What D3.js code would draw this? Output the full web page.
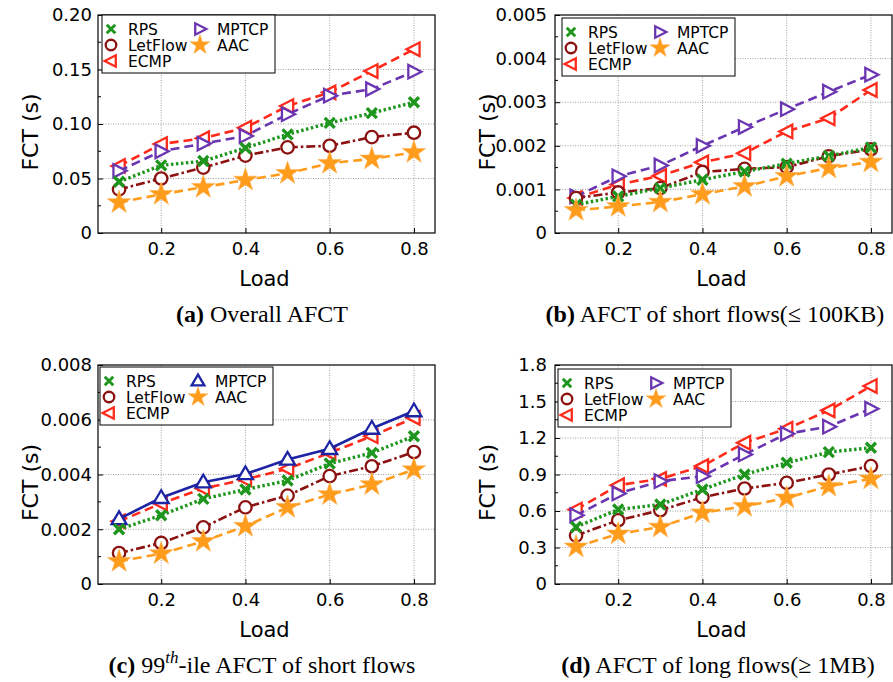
<!DOCTYPE html>
<html>
<head>
<meta charset="utf-8">
<script src="https://cdn.jsdelivr.net/npm/d3@7"></script>
<style>
  body { margin: 0; background: #fff; }
  svg { display: block; }
  .tick text { font-family: "DejaVu Sans", sans-serif; }
</style>
</head>
<body>
<svg id="chart" width="893" height="682"></svg>
<script>
"use strict";

const loads = [0.1, 0.2, 0.3, 0.4, 0.5, 0.6, 0.7, 0.8];
const seriesNames = ["RPS", "LetFlow", "ECMP", "MPTCP", "AAC"];

// (a) overall AFCT
const overallRPS = [0.047, 0.062, 0.066, 0.078, 0.0905, 0.101, 0.110, 0.120];
const overallLetFlow = [0.040, 0.050, 0.060, 0.071, 0.0786, 0.080, 0.088, 0.092];
const overallECMP = [0.0615, 0.0816, 0.087, 0.0966, 0.1165, 0.129, 0.1486, 0.1685];
const overallMPTCP = [0.057, 0.075, 0.082, 0.089, 0.109, 0.126, 0.132, 0.148];
const overallAAC = [0.028, 0.0355, 0.042, 0.0486, 0.0548, 0.064, 0.068, 0.074];

// (b) short flows AFCT
const shortRPS = [0.00065, 0.00084, 0.00103, 0.00122, 0.00141, 0.00159, 0.00177, 0.00196];
const shortLetFlow = [0.0008, 0.00093, 0.00103, 0.0014, 0.00147, 0.00151, 0.00176, 0.00192];
const shortECMP = [0.0008, 0.00111, 0.00131, 0.00162, 0.00183, 0.00233, 0.00263, 0.00328];
const shortMPTCP = [0.00084, 0.0013, 0.00155, 0.002, 0.00243, 0.00284, 0.00324, 0.00363];
const shortAAC = [0.00052, 0.00061, 0.00071, 0.00089, 0.00107, 0.0013, 0.00149, 0.00163];

// (c) 99th percentile of short flows
const tailRPS = [0.0020, 0.00251, 0.00311, 0.00345, 0.00378, 0.0044, 0.00479, 0.0054];
const tailLetFlow = [0.00113, 0.0015, 0.00207, 0.0028, 0.00323, 0.00394, 0.0043, 0.00482];
const tailECMP = [0.00229, 0.00294, 0.00349, 0.00382, 0.00421, 0.00479, 0.0054, 0.00607];
const tailMPTCP = [0.00238, 0.00315, 0.00372, 0.00402, 0.00455, 0.00494, 0.00568, 0.00632];
const tailAAC = [0.00083, 0.00111, 0.00156, 0.00211, 0.0028, 0.00327, 0.00363, 0.00418];

// (d) long flows AFCT
const longRPS = [0.469, 0.612, 0.653, 0.777, 0.90, 0.996, 1.084, 1.12];
const longLetFlow = [0.398, 0.524, 0.606, 0.713, 0.785, 0.831, 0.90, 0.969];
const longECMP = [0.612, 0.812, 0.864, 0.969, 1.161, 1.276, 1.427, 1.627];
const longMPTCP = [0.565, 0.744, 0.845, 0.886, 1.065, 1.235, 1.293, 1.441];
const longAAC = [0.305, 0.412, 0.469, 0.585, 0.639, 0.708, 0.804, 0.864];

const xTicks = [0.2, 0.4, 0.6, 0.8];
const yTicksA = [0, 0.05, 0.10, 0.15, 0.20];
const yTicksB = [0, 0.001, 0.002, 0.003, 0.004, 0.005];
const yTicksC = [0, 0.002, 0.004, 0.006, 0.008];
const yTicksD = [0, 0.3, 0.6, 0.9, 1.2, 1.5, 1.8];

const svg = d3.select("#chart");

const panels = [
  { left: 98, top: 15, w: 337, h: 218, ticks: yTicksA, fmt: (d) => d === 0 ? "0" : d.toFixed(2), pad: 6,
    data: [overallRPS, overallLetFlow, overallECMP, overallMPTCP, overallAAC], mptcpUp: false,
    legend: [102, 15], cap: ["(a)", " Overall AFCT"], capX: 262, capY: 322 },
  { left: 555, top: 15, w: 337, h: 218, ticks: yTicksB, fmt: (d) => d === 0 ? "0" : d.toFixed(3), pad: 8,
    data: [shortRPS, shortLetFlow, shortECMP, shortMPTCP, shortAAC], mptcpUp: false,
    legend: [562, 18], cap: ["(b)", " AFCT of short flows(\u2264 100KB)"], capX: 715, capY: 322 },
  { left: 98, top: 365, w: 337, h: 219, ticks: yTicksC, fmt: (d) => d === 0 ? "0" : d.toFixed(3), pad: 6,
    data: [tailRPS, tailLetFlow, tailECMP, tailMPTCP, tailAAC], mptcpUp: true,
    legend: [100, 367], cap: ["(c)", " 99", "th", "-ile AFCT of short flows"], capX: 262, capY: 673 },
  { left: 555, top: 365, w: 337, h: 219, ticks: yTicksD, fmt: (d) => d === 0 ? "0" : d.toFixed(1), pad: 8,
    data: [longRPS, longLetFlow, longECMP, longMPTCP, longAAC], mptcpUp: false,
    legend: [558, 369], cap: ["(d)", " AFCT of long flows(\u2265 1MB)"], capX: 718, capY: 673 },
];

const colors = {
  RPS: "#1e961e", LetFlow: "#8c1212", ECMP: "#ff2a1a", MPTCP: "#6a35b0", MPTCPc: "#1c24a4", AAC: "#ff9c1c",
};
const dashes = { RPS: "2.5,2.5", LetFlow: "9,3,2.5,3", ECMP: "9,5", MPTCP: "9,5", MPTCPc: null, AAC: "9,5" };

// marker shapes
function triPath(r, dir) {
  // dir: "left", "right", "up"
  let pts;
  if (dir === "left") pts = [[-r, 0], [r * 0.75, -r * 0.9], [r * 0.75, r * 0.9]];
  else if (dir === "right") pts = [[r, 0], [-r * 0.75, -r * 0.9], [-r * 0.75, r * 0.9]];
  else pts = [[0, -r], [-r, r * 0.7], [r, r * 0.7]];
  return "M" + pts.map((p) => p.join(",")).join("L") + "Z";
}
const starPath = d3.symbol().type(d3.symbolStar).size(170)();
const crossPath = "M-5,-5L5,5M-5,5L5,-5";

function drawMarker(sel, name, up, scale) {
  const k = scale || 1;
  if (name === "RPS") {
    sel.append("path").attr("d", crossPath).attr("transform", `scale(${k})`)
      .attr("stroke", colors.RPS).attr("stroke-width", 3.4).attr("fill", "none");
  } else if (name === "LetFlow") {
    sel.append("circle").attr("r", 6.2 * k).attr("fill", "#fff")
      .attr("stroke", colors.LetFlow).attr("stroke-width", 2.3);
  } else if (name === "ECMP") {
    sel.append("path").attr("d", triPath(7.5 * k, "left")).attr("fill", "#fff")
      .attr("stroke", colors.ECMP).attr("stroke-width", 2.3);
  } else if (name === "MPTCP") {
    sel.append("path").attr("d", triPath(7.5 * k, up ? "up" : "right")).attr("fill", "#fff")
      .attr("stroke", up ? colors.MPTCPc : colors.MPTCP).attr("stroke-width", 2.3);
  } else {
    sel.append("path").attr("d", starPath).attr("transform", `scale(${k})`)
      .attr("fill", colors.AAC).attr("stroke", "#ffb050").attr("stroke-width", 0.6);
  }
}

panels.forEach((p) => {
  const g = svg.append("g").attr("transform", `translate(${p.left},${p.top})`);
  const x = d3.scaleLinear().domain([0.05, 0.85]).range([0, p.w]);
  const yMax = p.ticks[p.ticks.length - 1];
  const y = d3.scaleLinear().domain([0, yMax]).range([p.h, 0]);
  const step = p.ticks[1] - p.ticks[0];

  // grid
  g.append("g").selectAll("line").data(xTicks).join("line")
    .attr("x1", (d) => x(d)).attr("x2", (d) => x(d)).attr("y1", 0).attr("y2", p.h)
    .attr("stroke", "#888").attr("stroke-width", 0.8).attr("stroke-dasharray", "1,1.5");
  g.append("g").selectAll("line").data(p.ticks.slice(1, -1)).join("line")
    .attr("x1", 0).attr("x2", p.w).attr("y1", (d) => y(d)).attr("y2", (d) => y(d))
    .attr("stroke", "#888").attr("stroke-width", 0.8).attr("stroke-dasharray", "1,1.5");

  // axes
  const yAxis = d3.axisLeft(y).tickValues(p.ticks).tickFormat(p.fmt).tickSizeInner(-5).tickSizeOuter(0).tickPadding(p.pad);
  const yg = g.append("g").call(yAxis);
  yg.select(".domain").remove();
  yg.selectAll("text").attr("font-size", 18).attr("fill", "#000");
  yg.selectAll("line").attr("stroke", "#000");
  // minor ticks
  const minor = p.ticks.slice(0, -1).map((d) => d + step / 2);
  g.append("g").selectAll("line").data(minor).join("line")
    .attr("x1", 0).attr("x2", 3).attr("y1", (d) => y(d)).attr("y2", (d) => y(d)).attr("stroke", "#000");

  const xAxis = d3.axisBottom(x).tickValues(xTicks).tickFormat(d3.format(".1f")).tickSizeInner(-5).tickSizeOuter(0).tickPadding(9);
  const xg = g.append("g").attr("transform", `translate(0,${p.h})`).call(xAxis);
  xg.select(".domain").remove();
  xg.selectAll("text").attr("font-size", 18).attr("fill", "#000");
  xg.selectAll("line").attr("stroke", "#000");

  g.append("rect").attr("width", p.w).attr("height", p.h)
    .attr("fill", "none").attr("stroke", "#000").attr("stroke-width", 1.2);

  // labels
  g.append("text").attr("transform", `translate(-60,${p.h / 2 + 8}) rotate(-90)`)
    .attr("text-anchor", "middle").attr("font-family", "DejaVu Sans, sans-serif")
    .attr("font-size", 22).text("FCT (s)");
  g.append("text").attr("x", p.w / 2 - 2).attr("y", p.h + 53)
    .attr("text-anchor", "middle").attr("font-family", "DejaVu Sans, sans-serif")
    .attr("font-size", 21).text("Load");

  // series
  const order = ["ECMP", "MPTCP", "LetFlow", "RPS", "AAC"];
  order.forEach((name) => {
    const i = seriesNames.indexOf(name);
    const vals = p.data[i];
    const key = name === "MPTCP" && p.mptcpUp ? "MPTCPc" : name;
    const line = d3.line().x((d, j) => x(loads[j])).y((d) => y(d));
    g.append("path").datum(vals).attr("d", line).attr("fill", "none")
      .attr("stroke", colors[key]).attr("stroke-width", name === "RPS" ? 3.4 : 2.6)
      .attr("stroke-dasharray", dashes[key]);
    g.append("g").selectAll("g").data(vals).join("g")
      .attr("transform", (d, j) => `translate(${x(loads[j])},${y(d)})`)
      .each(function () { drawMarker(d3.select(this), name, p.mptcpUp); });
  });

  // legend
  const [lx, ly] = p.legend;
  const lg = svg.append("g").attr("transform", `translate(${lx},${ly})`);
  lg.append("rect").attr("width", 173).attr("height", 58).attr("fill", "#fff")
    .attr("stroke", "#000").attr("stroke-width", 1);
  const slots = [[9, 14], [9, 30], [9, 46], [98, 14], [98, 30]];
  seriesNames.forEach((name, i) => {
    const [sx, sy] = slots[i];
    const mg = lg.append("g").attr("transform", `translate(${sx},${sy})`);
    drawMarker(mg, name, p.mptcpUp, 0.85);
    lg.append("text").attr("x", sx + 17).attr("y", sy + 6)
      .attr("font-family", "DejaVu Sans, sans-serif").attr("font-size", 15.5).text(name);
  });

  // caption
  const cap = svg.append("text").attr("x", p.capX).attr("y", p.capY).attr("text-anchor", "middle")
    .attr("font-family", "Liberation Serif, serif").attr("font-size", 24);
  cap.append("tspan").attr("font-weight", "bold").text(p.cap[0]);
  if (p.cap.length === 2) {
    cap.append("tspan").text(p.cap[1]);
  } else {
    cap.append("tspan").text(p.cap[1]);
    cap.append("tspan").attr("font-style", "italic").attr("font-size", 17).attr("dy", -10).text(p.cap[2]);
    cap.append("tspan").attr("dy", 10).text(p.cap[3]);
  }
});
</script>
</body>
</html>
